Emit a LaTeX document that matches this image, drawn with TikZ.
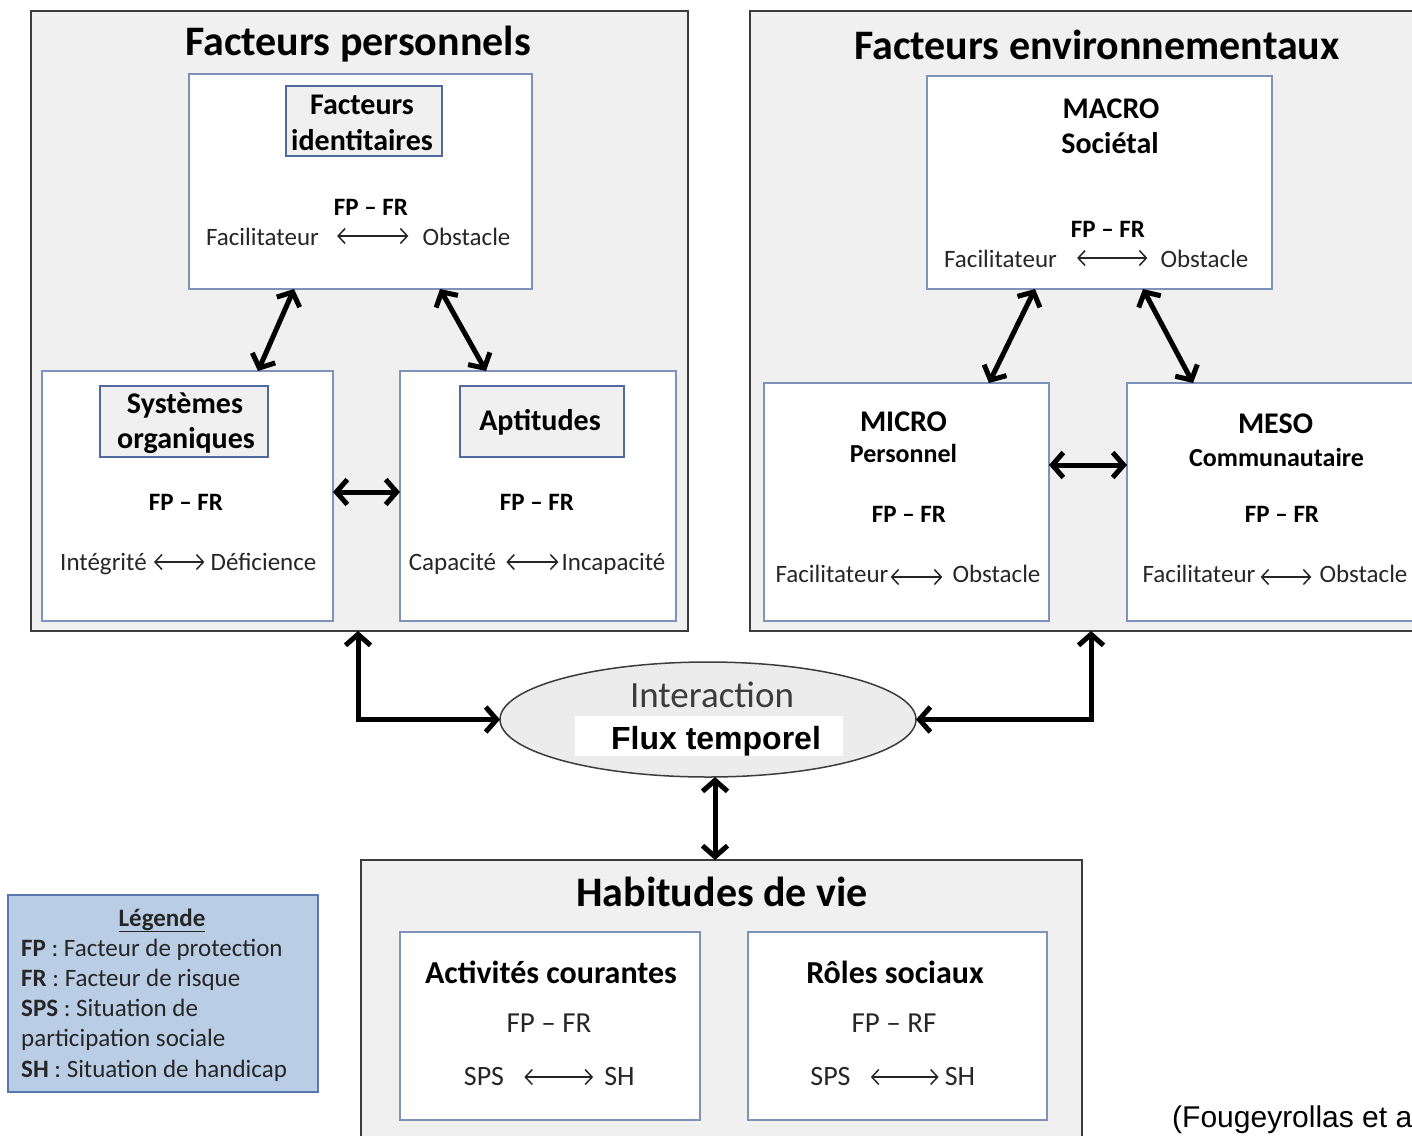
\documentclass[tikz,border=0pt]{standalone}
\usepackage{fontspec}
\setmainfont{Carlito}
\newfontfamily\arialf{Liberation Sans}
\usetikzlibrary{arrows.meta,shapes.geometric,calc}
\definecolor{boxgray}{HTML}{F0F0F0}
\definecolor{bluegray}{HTML}{7F93BA}
\definecolor{labelblue}{HTML}{4F6A9E}
\definecolor{legfill}{HTML}{B9CDE5}
\definecolor{legline}{HTML}{5878AE}
\definecolor{darkline}{HTML}{3C3C3C}
\definecolor{txtgray}{HTML}{262626}
\definecolor{ellfill}{HTML}{ECECEC}
\tikzset{
  bigbox/.style={draw=darkline, fill=boxgray, line width=1.8pt, inner sep=0pt, outer sep=0pt},
  whitebox/.style={draw=bluegray, fill=white, line width=1.5pt, inner sep=0pt, outer sep=0pt},
  labelbox/.style={draw=labelblue, fill=boxgray, line width=1.5pt, inner sep=0pt, outer sep=0pt},
  legbox/.style={draw=legline, fill=legfill, line width=1.8pt, inner sep=0pt, outer sep=0pt},
  ttl/.style={font=\fontsize{42pt}{46pt}\selectfont\bfseries, text=black, inner sep=0pt, anchor=base},
  hdr/.style={font=\fontsize{30pt}{34pt}\selectfont\bfseries, text=black, inner sep=0pt, anchor=base},
  subhdr/.style={font=\fontsize{26pt}{30pt}\selectfont\bfseries, text=black, inner sep=0pt, anchor=base},
  bhdr/.style={font=\fontsize{32pt}{36pt}\selectfont\bfseries, text=black, inner sep=0pt, anchor=base},
  fpfr/.style={font=\fontsize{25pt}{29pt}\selectfont\bfseries, text=black, inner sep=0pt, anchor=base},
  bfpfr/.style={font=\fontsize{29pt}{33pt}\selectfont, text=txtgray, inner sep=0pt, anchor=base},
  duotxt/.style={font=\fontsize{25pt}{29pt}\selectfont, text=txtgray, inner sep=0pt, anchor=base},
  legtxt/.style={font=\fontsize{25pt}{29pt}\selectfont, text=txtgray, inner sep=0pt, anchor=base west},
  bigarr/.style={line width=5pt, draw=black, {Straight Barb[length=11pt,width=25pt]}-{Straight Barb[length=11pt,width=25pt]}},
  smallarr/.style={line width=1.5pt, draw=txtgray, {Straight Barb[length=7pt,width=15pt]}-{Straight Barb[length=7pt,width=15pt]}}
}
% #1 name, #2 baseline, #3 left cx, #4 left text, #5 left gap, #6 right gap, #7 right cx, #8 right text, #9 arrow raise
\newcommand\duo[9]{%
  \node[duotxt] (#1l) at (#3,#2) {#4};
  \node[duotxt] (#1r) at (#7,#2) {#8};
  \draw[smallarr] ($(#1l.base east)+(#5,-#9)$) -- ($(#1r.base west)+(-#6,-#9)$);
}
\begin{document}
\begin{tikzpicture}[x=1pt,y=-1pt]
\useasboundingbox (0,0) rectangle (1412,1135);
\fill[white] (0,0) rectangle (1412,1135);

% ---------- big boxes ----------
\node[bigbox, minimum width=657, minimum height=620] (pf) at (359.5,321) {};
\node[bigbox, minimum width=675, minimum height=620] (pe) at (1087.5,321) {};
\node[bigbox, minimum width=721, minimum height=290] (hv) at (721.5,1005) {};

% ---------- personal factors ----------
\node[ttl] (tpf) at (358,55) {Facteurs personnels};
\node[whitebox, minimum width=343, minimum height=215] (fi) at (360.5,181.5) {};
\node[labelbox, minimum width=156, minimum height=70] (fil) at (364,121) {};
\node[hdr] (fi1) at (362,114) {Facteurs};
\node[hdr] (fi2) at (362,150) {identitaires};
\node[fpfr] (fifp) at (371,215) {FP – FR};
\duo{fid}{245}{262.5}{Facilitateur}{18}{14}{466.5}{Obstacle}{9}

\node[whitebox, minimum width=291, minimum height=250] (so) at (187.5,496) {};
\node[labelbox, minimum width=168, minimum height=71] (sol) at (184,421.5) {};
\node[hdr] (so1) at (185,413) {Systèmes};
\node[hdr] (so2) at (186,448) {organiques};
\node[fpfr] (sofp) at (186,510) {FP – FR};
\duo{sod}{570}{103.5}{Intégrité}{7}{6}{263.5}{Déficience}{8}

\node[whitebox, minimum width=276, minimum height=250] (ap) at (538,496) {};
\node[labelbox, minimum width=164, minimum height=71] (apl) at (542,421.5) {};
\node[hdr] (ap1) at (540,430) {Aptitudes};
\node[fpfr] (apfp) at (537,510) {FP – FR};
\duo{apd}{570}{452.5}{Capacité}{10}{3}{613.5}{Incapacité}{8}

\draw[bigarr] ($(fi.south west)+(105,0)$) -- ($(so.north west)+(216,0)$);
\draw[bigarr] ($(fi.south west)+(251,0)$) -- ($(ap.north west)+(86,0)$);
\draw[bigarr] ([yshift=4pt]so.east) -- ([yshift=4pt]ap.west);

% ---------- environmental factors ----------
\node[ttl] (tpe) at (1097,59) {Facteurs environnementaux};
\node[whitebox, minimum width=345, minimum height=213] (ma) at (1099.5,182.5) {};
\node[hdr] (ma1) at (1111,118) {MACRO};
\node[hdr] (ma2) at (1110,153) {Sociétal};
\node[fpfr] (mafp) at (1108,237) {FP – FR};
\duo{mad}{267}{1000.5}{Facilitateur}{20}{13}{1204.5}{Obstacle}{9}

\node[whitebox, minimum width=285, minimum height=238] (mi) at (906.5,502) {};
\node[hdr] (mi1) at (903.5,431) {MICRO};
\node[subhdr] (mi2) at (903.5,462) {Personnel};
\node[fpfr] (mifp) at (909,522) {FP – FR};
\duo{mid}{582}{832}{Facilitateur}{2}{10}{996.5}{Obstacle}{5}

\node[whitebox, minimum width=298, minimum height=238] (me) at (1276,502) {};
\node[hdr] (me1) at (1275.5,433) {MESO};
\node[subhdr] (me2) at (1276.5,466) {Communautaire};
\node[fpfr] (mefp) at (1282,522) {FP – FR};
\duo{med}{582}{1199}{Facilitateur}{5}{8}{1363.5}{Obstacle}{5}

\draw[bigarr] ($(ma.south west)+(108,0)$) -- ($(mi.north west)+(225,0)$);
\draw[bigarr] ($(ma.south west)+(216,0)$) -- ($(me.north west)+(66,0)$);
\draw[bigarr] ([yshift=37pt]mi.east) -- ([yshift=37pt]me.west);

% ---------- interaction ----------
\node[ellipse, draw=darkline, fill=ellfill, line width=1.5pt, minimum width=416, minimum height=115, inner sep=0pt, outer sep=0pt] (inter) at (708,719.5) {};
\node[fill=white, minimum width=268, minimum height=40, inner sep=0pt] (fluxbg) at (709,736) {};
\node[font=\fontsize{37pt}{41pt}\selectfont, text=darkline, inner sep=0pt, anchor=base] (int1) at (712,707) {Interaction};
\node[font=\arialf\fontsize{32pt}{36pt}\selectfont\bfseries, text=black, inner sep=0pt, anchor=base] (flux) at (716,749) {Flux temporel};

\draw[bigarr] ([xshift=-1.5pt]pf.south) |- (inter.west);
\draw[bigarr] ([xshift=3.5pt]pe.south) |- (inter.east);
\draw[bigarr] ([xshift=7pt]inter.south) -- ([xshift=-6.5pt]hv.north);

% ---------- habitudes de vie ----------
\node[ttl] (thv) at (722,906) {Habitudes de vie};
\node[whitebox, minimum width=300, minimum height=188] (ac) at (550,1026) {};
\node[bhdr] (ac1) at (551,983) {Activités courantes};
\node[bfpfr] (acfp) at (549,1032) {FP – FR};
\node[whitebox, minimum width=299, minimum height=188] (rs) at (897.5,1026) {};
\node[bhdr] (rs1) at (895,983) {Rôles sociaux};
\node[bfpfr] (rsfp) at (894,1032) {FP – RF};
\tikzset{duotxt/.style={font=\fontsize{28pt}{32pt}\selectfont, text=txtgray, inner sep=0pt, anchor=base}}
\duo{acd}{1085}{484}{SPS}{20}{11}{619.5}{SH}{8}
\duo{rsd}{1085}{830.5}{SPS}{20}{6}{960}{SH}{8}

% ---------- legend ----------
\node[legbox, minimum width=310, minimum height=197] (leg) at (163,993.5) {};
\node[font=\fontsize{25pt}{29pt}\selectfont\bfseries, text=txtgray, inner sep=0pt, anchor=base] (legt) at (162,926) {\underline{Légende}};
\node[legtxt] (leg1) at (21,956) {\textbf{FP} : Facteur de protection};
\node[legtxt] (leg2) at (21,986) {\textbf{FR} : Facteur de risque};
\node[legtxt] (leg3) at (21,1016) {\textbf{SPS} : Situation de};
\node[legtxt] (leg4) at (21,1046) {participation sociale};
\node[legtxt] (leg5) at (21,1077) {\textbf{SH} : Situation de handicap};

% ---------- citation ----------
\node[font=\arialf\fontsize{30pt}{34pt}\selectfont, text=black, inner sep=0pt, anchor=base west] (cite) at (1172,1127) {(Fougeyrollas et a};
\end{tikzpicture}
\end{document}
